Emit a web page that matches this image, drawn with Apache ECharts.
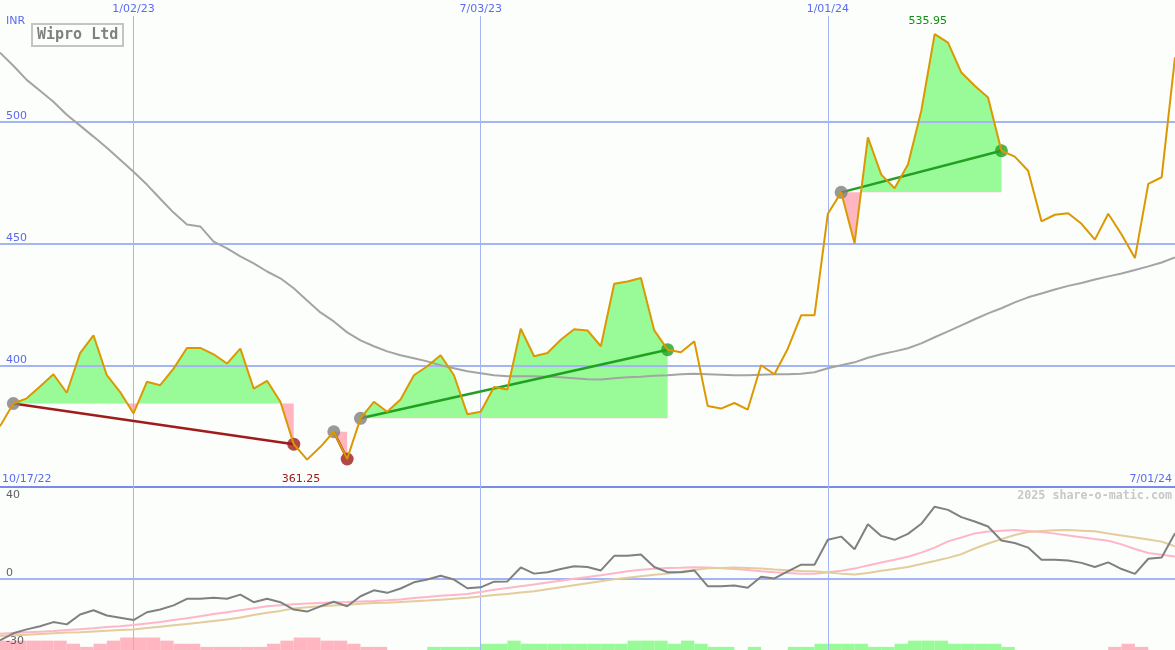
<!DOCTYPE html>
<html><head><meta charset="utf-8">
<script src="https://cdn.jsdelivr.net/npm/echarts@6/dist/echarts.min.js"></script>
<style>html,body{margin:0;padding:0;background:#fbfefb}#c{width:1175px;height:650px}</style>
</head><body><div id="c"></div><script>
// ---------- data ----------
const startWeek = '2022-10-24';
const dateTicks = ['1/02/23', '7/03/23', '1/01/24'];
const edgeLabels = ['10/17/22', '7/01/24'];
const priceTicks = [400, 450, 500];
const oscLowTicks = [-30, 0];
const oscTopTick = 40;

const price = [374.9, 384.3, 386.4, 391.3, 396.3, 388.7, 405.0, 412.3, 395.9, 389.0,
  380.2, 393.2, 391.8, 398.6, 407.1, 407.1, 404.5, 400.7, 406.8, 390.4,
  393.6, 385.0, 367.6, 361.25, 366.5, 372.7, 361.5, 378.2, 385.0, 380.9,
  385.9, 395.9, 399.6, 404.1, 395.9, 379.9, 380.9, 391.1, 390.0, 415.0,
  403.7, 405.0, 410.5, 414.8, 414.3, 407.8, 433.5, 434.4, 435.8, 414.3,
  406.4, 405.3, 409.8, 383.3, 382.2, 384.5, 381.8, 400.0, 396.3, 406.8,
  420.5, 420.5, 462.2, 471.0, 450.1, 493.6, 478.3, 472.7, 482.4, 504.5,
  535.95, 532.5, 520.2, 514.8, 510.0, 488.1, 485.7, 479.9, 459.1, 461.8,
  462.4, 458.1, 451.6, 462.2, 453.7, 444.0, 474.5, 477.2, 526.4];

const movingAvg = [528.4, 523.0, 517.2, 512.7, 508.2, 502.9, 498.4, 493.9, 489.3, 484.4,
  479.5, 474.2, 468.4, 462.7, 457.8, 457.0, 450.8, 448.0, 444.7, 441.8,
  438.5, 435.7, 431.6, 426.6, 421.7, 418.0, 413.5, 410.2, 407.8, 405.7,
  404.1, 402.9, 401.6, 400.0, 398.8, 397.5, 396.7, 395.9, 395.5, 395.5,
  395.5, 395.3, 395.1, 394.7, 394.3, 394.1, 394.7, 395.1, 395.3, 395.7,
  395.9, 396.3, 396.5, 396.3, 396.1, 395.9, 395.9, 396.1, 396.3, 396.3,
  396.5, 397.1, 398.8, 400.0, 401.2, 403.1, 404.5, 405.7, 407.0, 409.0,
  411.5, 413.9, 416.4, 418.9, 421.3, 423.4, 425.8, 427.9, 429.5, 431.1,
  432.6, 433.8, 435.2, 436.5, 437.7, 439.1, 440.6, 442.2, 444.3];

const oscMain = [-27.1, -24.0, -22.3, -20.9, -19.1, -20.1, -15.8, -13.9, -16.2, -17.2,
  -18.2, -14.8, -13.6, -11.8, -8.9, -8.9, -8.5, -8.9, -7.1, -10.4,
  -8.9, -10.4, -13.6, -14.5, -12.2, -10.2, -12.2, -7.8, -5.2, -6.3,
  -4.4, -1.7, -0.5, 1.2, -0.5, -4.3, -3.9, -1.4, -1.3, 4.8,
  2.1, 2.7, 4.1, 5.3, 5.0, 3.5, 9.9, 9.9, 10.5, 5.0,
  2.7, 2.7, 3.5, -3.4, -3.4, -3.1, -4.1, 0.7, 0.0, 3.1,
  6.0, 6.0, 16.9, 18.3, 12.8, 23.7, 18.6, 16.9, 19.5, 23.9,
  31.4, 30.0, 26.8, 24.9, 22.7, 16.6, 15.5, 13.5, 8.2, 8.2,
  7.8, 6.8, 5.0, 7.0, 4.1, 2.0, 8.6, 9.2, 19.8];

const oscPink = [-24.2, -23.9, -23.6, -23.3, -23.0, -22.6, -22.2, -21.8, -21.3, -20.9,
  -20.4, -19.7, -19.1, -18.2, -17.4, -16.5, -15.6, -14.8, -13.9, -13.0,
  -12.2, -11.7, -11.3, -11.0, -10.7, -10.4, -10.3, -10.1, -9.9, -9.6,
  -9.2, -8.6, -8.1, -7.6, -7.2, -6.8, -5.9, -5.0, -4.2, -3.4,
  -2.7, -1.8, -1.0, -0.1, 0.6, 1.4, 2.3, 3.1, 3.8, 4.2,
  4.6, 4.7, 4.9, 4.8, 4.4, 4.1, 3.7, 3.1, 2.7, 2.4,
  2.1, 2.0, 2.7, 3.4, 4.3, 5.7, 7.0, 8.2, 9.5, 11.3,
  13.5, 16.2, 17.9, 19.7, 20.5, 20.9, 21.2, 20.8, 20.3, 19.6,
  18.8, 18.0, 17.2, 16.5, 14.9, 12.9, 11.1, 10.4, 9.6];

const oscTan = [-25.2, -24.9, -24.6, -24.3, -24.0, -23.7, -23.5, -23.2, -22.9, -22.6,
  -22.3, -21.7, -21.1, -20.5, -19.9, -19.3, -18.6, -18.0, -17.1, -16.0,
  -15.0, -14.2, -13.2, -12.6, -12.2, -11.8, -11.5, -11.1, -10.8, -10.6,
  -10.3, -10.0, -9.7, -9.3, -8.9, -8.5, -7.9, -7.3, -6.8, -6.2,
  -5.6, -4.7, -3.9, -3.0, -2.1, -1.2, -0.4, 0.3, 1.0, 1.6,
  2.1, 2.9, 3.7, 4.4, 4.6, 4.8, 4.6, 4.3, 3.9, 3.6,
  3.3, 3.1, 2.6, 2.1, 1.7, 2.4, 3.4, 4.1, 5.0, 6.3,
  7.6, 9.0, 10.6, 13.1, 15.3, 17.2, 19.0, 20.3, 20.8, 21.1,
  21.2, 20.9, 20.6, 19.7, 18.8, 17.9, 17.0, 16.1, 14.0];

const histogram = [-3, -3, -3, -3, -3, -2, -1, -2, -3, -4,
  -4, -4, -3, -2, -2, -1, -1, -1, -1, -1,
  -2, -3, -4, -4, -3, -3, -2, -1, -1, 0,
  0, 0, 1, 1, 1, 1, 2, 2, 3, 2,
  2, 2, 2, 2, 2, 2, 2, 3, 3, 3,
  2, 3, 2, 1, 1, 0, 1, 0, 0, 1,
  1, 2, 2, 2, 2, 1, 1, 2, 3, 3,
  3, 2, 2, 2, 2, 1, 0, 0, 0, 0,
  0, 0, 0, -1, -2, -1, 0, 0];

const trades = [
  { entry: 1, exit: 22 },
  { entry: 25, exit: 26 },
  { entry: 27, exit: 50 },
  { entry: 63, exit: 75 }
];

// ---------- styles ----------
const BG = '#fbfefb';
const AXIS_TXT = '#5a6bf0';
const GRID = '#a4b4f4';
const SEP = '#7a8ae8';
const PRICE = '#dc9800';
const GREEN = '#98fb98';
const PINK = '#ffb6c1';
const WIN = '#22a022';
const LOSS = '#a01c1c';
const LBL_FONT = 'DejaVu Sans';

const weeks = price.map((_, i) => {
  const d = new Date(Date.parse(startWeek + 'T00:00:00Z') + i * 7 * 864e5);
  return (d.getUTCMonth() + 1) + '/' + String(d.getUTCDate()).padStart(2, '0') + '/' + String(d.getUTCFullYear()).slice(2);
});
const histCats = histogram.map((_, i) => 'b' + i);

const fillSeries = trades.map(t => ({
  type: 'line', xAxisIndex: 1, yAxisIndex: 1, z: 1, silent: true,
  data: price.map((v, i) => (i >= t.entry && i <= t.exit) ? v : '-'),
  symbol: 'none', showSymbol: false,
  lineStyle: { width: 0, opacity: 0 },
  areaStyle: { origin: price[t.entry], opacity: 1 }
}));
const visualMaps = trades.map((t, i) => ({
  type: 'piecewise', show: false, seriesIndex: i, dimension: 1,
  pieces: [{ min: 300, max: price[t.entry], color: PINK }, { min: price[t.entry], max: 600, color: GREEN }]
}));
const tradeLines = trades.map(t => ({
  type: 'line', xAxisIndex: 1, yAxisIndex: 1, z: 4, silent: true, connectNulls: true, symbol: 'none',
  data: price.map((v, i) => (i === t.entry || i === t.exit) ? v : '-'),
  lineStyle: { color: price[t.exit] > price[t.entry] ? WIN : LOSS, width: 2.5 }
}));

const chart = echarts.init(document.getElementById('c'), null, { renderer: 'canvas' });
chart.setOption({
  backgroundColor: BG,
  animation: false,
  title: [
    { text: 'INR', left: 4, top: 14, padding: 2, textStyle: { color: AXIS_TXT, fontSize: 11, fontWeight: 'normal', fontFamily: LBL_FONT } },
    { text: 'Wipro Ltd', left: 32, top: 24, padding: [3, 5, 2, 5], borderColor: '#c4c4c4', borderWidth: 2,
      textStyle: { color: '#808080', fontSize: 15, fontWeight: 'bold', fontFamily: 'DejaVu Sans Mono', lineHeight: 17 } }
  ],
  graphic: [
    { type: 'text', left: 2, top: 474, style: { text: edgeLabels[0], fill: AXIS_TXT, font: '11px ' + LBL_FONT } },
    { type: 'text', right: 3, top: 474, style: { text: edgeLabels[1], fill: AXIS_TXT, font: '11px ' + LBL_FONT } },
    { type: 'text', right: 3, top: 490, z: 10, style: { text: '2025 share-o-matic.com', fill: '#c8c8c8', font: 'bold 11.7px "DejaVu Sans Mono"' } }
  ],
  visualMap: visualMaps,
  grid: [
    { left: 0, right: 0, top: 16, bottom: 0 },
    { left: 0, right: 0, top: 0, height: 487 },
    { left: 0, right: 0, top: 487, height: 160 },
    { left: 0, right: 0, top: 600, height: 50 }
  ],
  xAxis: [
    { gridIndex: 0, type: 'category', data: weeks, boundaryGap: false, position: 'top', z: 3,
      axisLine: { show: false }, axisTick: { show: false },
      axisLabel: { interval: (i, v) => dateTicks.includes(v), color: AXIS_TXT, fontSize: 11, fontFamily: LBL_FONT, margin: 1 },
      splitLine: { show: true, interval: (i, v) => dateTicks.includes(v), lineStyle: { color: GRID, width: 1 } } },
    { gridIndex: 1, type: 'category', data: weeks, boundaryGap: false, show: false },
    { gridIndex: 2, type: 'category', data: weeks, boundaryGap: false, show: false },
    { gridIndex: 3, type: 'category', data: histCats, boundaryGap: true, show: false }
  ],
  yAxis: [
    { gridIndex: 0, type: 'value', min: 0, max: 1, show: false },
    { gridIndex: 1, type: 'value', min: 350, max: 550, interval: 50, z: 3, position: 'left',
      axisLine: { show: false }, axisTick: { show: false },
      axisLabel: { inside: true, margin: 6, verticalAlign: 'bottom', color: AXIS_TXT, fontSize: 11, fontFamily: LBL_FONT,
        formatter: v => priceTicks.includes(v) ? String(v) : '' },
      splitLine: { show: true, lineStyle: { width: 2, color: [SEP, GRID, GRID, GRID, 'rgba(0,0,0,0)'] } } },
    { gridIndex: 2, type: 'value', min: -30, max: 40, interval: 10, z: 3, position: 'left',
      axisLine: { show: false }, axisTick: { show: false },
      axisLabel: { inside: true, margin: 6, verticalAlign: 'bottom', color: '#606060', fontSize: 11, fontFamily: LBL_FONT,
        formatter: v => oscLowTicks.includes(v) ? String(v) : '' },
      splitLine: { show: true, lineStyle: { width: 2, color: ['rgba(0,0,0,0)', 'rgba(0,0,0,0)', 'rgba(0,0,0,0)', GRID, 'rgba(0,0,0,0)', 'rgba(0,0,0,0)', 'rgba(0,0,0,0)', 'rgba(0,0,0,0)'] } } },
    { gridIndex: 2, type: 'value', min: -30, max: 40, interval: 10, z: 3, position: 'left', offset: 0,
      axisLine: { show: false }, axisTick: { show: false }, splitLine: { show: false },
      axisLabel: { inside: true, margin: 6, verticalAlign: 'top', padding: [3, 0, 0, 0], color: '#606060', fontSize: 11, fontFamily: LBL_FONT,
        formatter: v => v === oscTopTick ? String(v) : '' } },
    { gridIndex: 3, type: 'value', min: 0, max: 16, show: false }
  ],
  series: [
    ...fillSeries,
    { type: 'line', name: 'MA', xAxisIndex: 1, yAxisIndex: 1, z: 4, silent: true, symbol: 'none', data: movingAvg,
      lineStyle: { color: '#a4a4a4', width: 2 } },
    ...tradeLines,
    { type: 'scatter', xAxisIndex: 1, yAxisIndex: 1, z: 4.5, silent: true, symbolSize: 13,
      itemStyle: { color: '#808080' }, data: trades.map(t => [t.entry, price[t.entry]]) },
    { type: 'scatter', xAxisIndex: 1, yAxisIndex: 1, z: 4.5, silent: true, symbolSize: 13,
      data: trades.map(t => ({ value: [t.exit, price[t.exit]], itemStyle: { color: price[t.exit] > price[t.entry] ? WIN : LOSS } })) },
    { type: 'line', name: 'Price', xAxisIndex: 1, yAxisIndex: 1, z: 5, silent: true, symbol: 'none', data: price,
      lineStyle: { color: PRICE, width: 2 },
      markPoint: { symbol: 'circle', symbolSize: 0, silent: true,
        label: { show: true, position: 'inside', fontSize: 11, fontFamily: LBL_FONT, formatter: p => p.value.toFixed(2) },
        data: [
          { type: 'max', label: { color: '#0f8f0f', offset: [-7, -13] } },
          { type: 'min', label: { color: '#a01c1c', offset: [-6, 20] } }
        ] } },
    { type: 'line', xAxisIndex: 2, yAxisIndex: 2, z: 3, silent: true, symbol: 'none', data: oscPink,
      lineStyle: { color: '#ffb6c8', width: 2 } },
    { type: 'line', xAxisIndex: 2, yAxisIndex: 2, z: 3, silent: true, symbol: 'none', data: oscTan,
      lineStyle: { color: '#e4cc9c', width: 2 } },
    { type: 'line', xAxisIndex: 2, yAxisIndex: 2, z: 4, silent: true, symbol: 'none', data: oscMain,
      lineStyle: { color: '#808080', width: 2 } },
    { type: 'bar', xAxisIndex: 3, yAxisIndex: 4, z: 2, silent: true, barWidth: '100%', barCategoryGap: 0,
      data: histogram.map(v => ({ value: Math.abs(v), itemStyle: { color: v < 0 ? PINK : GREEN } })) }
  ]
});
</script></body></html>
